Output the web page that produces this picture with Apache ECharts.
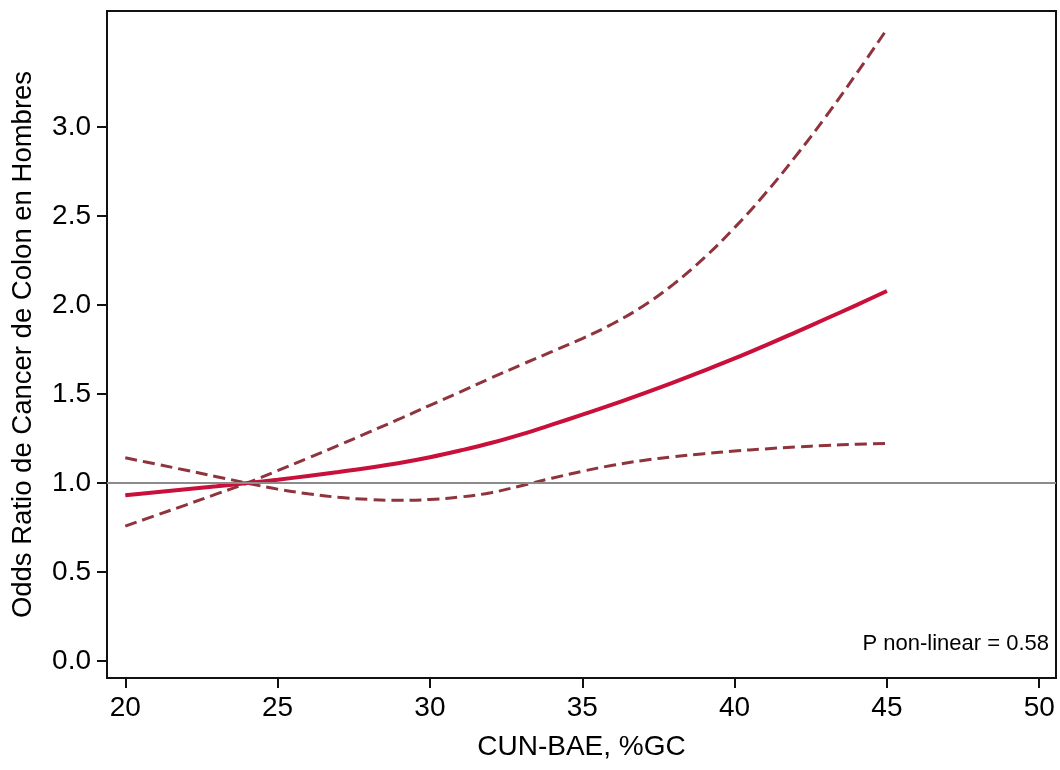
<!DOCTYPE html>
<html>
<head>
<meta charset="utf-8">
<script src="https://cdn.jsdelivr.net/npm/echarts@6/dist/echarts.min.js"></script>
<style>
  html, body { margin: 0; padding: 0; background: #fff; }
  #chart { width: 1060px; height: 770px; }
</style>
</head>
<body>
<div id="chart"></div>
<script>
// CUN-BAE body fat (%) and odds ratio with 95% confidence band
const bodyFat = [20, 21, 22, 23, 24, 25, 26, 27, 28, 29, 30, 31, 32, 33, 34, 35, 36, 37, 38, 39, 40, 41, 42, 43, 44, 45];
const oddsRatio = [0.931, 0.948, 0.965, 0.982, 1.000, 1.019, 1.040, 1.062, 1.086, 1.113, 1.145, 1.183, 1.225, 1.274, 1.328, 1.384, 1.442, 1.503, 1.566, 1.632, 1.700, 1.772, 1.847, 1.923, 2.000, 2.079];
const upperCI = [0.758, 0.818, 0.878, 0.939, 1.000, 1.070, 1.140, 1.212, 1.286, 1.360, 1.437, 1.512, 1.590, 1.665, 1.738, 1.812, 1.895, 1.995, 2.118, 2.265, 2.435, 2.625, 2.835, 3.060, 3.300, 3.550];
const lowerCI = [1.142, 1.107, 1.072, 1.036, 1.000, 0.966, 0.940, 0.920, 0.908, 0.903, 0.908, 0.922, 0.946, 0.985, 1.027, 1.066, 1.100, 1.127, 1.148, 1.165, 1.180, 1.192, 1.203, 1.211, 1.218, 1.223];
const xTicks = [20, 25, 30, 35, 40, 45, 50];
const yTicks = [0, 0.5, 1.0, 1.5, 2.0, 2.5, 3.0];
const refValue = 1.0;
const pText = 'P non-linear = 0.58';

const pairs = ys => bodyFat.map((x, i) => [x, ys[i]]);
const FONT = 'Liberation Sans';
const chart = echarts.init(document.getElementById('chart'), null, { renderer: 'canvas' });

chart.setOption({
  backgroundColor: '#ffffff',
  animation: false,
  textStyle: { fontFamily: FONT },
  grid: {
    left: 107, right: 4, top: 11, bottom: 92,
    show: true, borderColor: '#111', borderWidth: 2, backgroundColor: '#ffffff'
  },
  xAxis: {
    type: 'value',
    min: 19.4, max: 50.55,
    name: 'CUN-BAE, %GC',
    nameLocation: 'middle',
    nameGap: 55,
    nameTextStyle: { fontSize: 28, color: '#000', fontFamily: FONT },
    splitLine: { show: false },
    axisLine: { show: true, onZero: false, lineStyle: { color: '#111', width: 2 } },
    axisTick: { show: true, length: 10, lineStyle: { color: '#111', width: 2 }, customValues: xTicks },
    axisLabel: { fontSize: 28, color: '#000', margin: 16, fontFamily: FONT, customValues: xTicks }
  },
  yAxis: {
    type: 'value',
    min: -0.095, max: 3.652,
    name: 'Odds Ratio de Cancer de Colon en Hombres',
    nameLocation: 'middle',
    nameGap: 70,
    nameRotate: 90,
    nameTextStyle: { fontSize: 27.5, color: '#000', fontFamily: FONT },
    splitLine: { show: false },
    axisLine: { show: true, onZero: false, lineStyle: { color: '#111', width: 2 } },
    axisTick: { show: true, length: 10, lineStyle: { color: '#111', width: 2 }, customValues: yTicks },
    axisLabel: {
      fontSize: 28, color: '#000', margin: 16, fontFamily: FONT, customValues: yTicks,
      formatter: v => v.toFixed(1)
    }
  },
  series: [
    {
      name: 'Referencia',
      type: 'line',
      data: [],
      silent: true,
      markLine: {
        silent: true,
        symbol: ['none', 'none'],
        label: { show: false },
        lineStyle: { color: '#8c8c8c', width: 2, type: 'solid' },
        data: [{ yAxis: refValue }]
      },
      z: 1
    },
    {
      name: 'IC superior',
      type: 'line',
      data: pairs(upperCI),
      smooth: 0.4,
      showSymbol: false,
      lineStyle: { color: '#8f333d', width: 3, type: [12, 6] },
      z: 2
    },
    {
      name: 'IC inferior',
      type: 'line',
      data: pairs(lowerCI),
      smooth: 0.4,
      showSymbol: false,
      lineStyle: { color: '#8f333d', width: 3, type: [12, 6] },
      z: 2
    },
    {
      name: 'OR',
      type: 'line',
      data: pairs(oddsRatio),
      smooth: 0.4,
      showSymbol: false,
      lineStyle: { color: '#c8103a', width: 4 },
      z: 3
    }
  ],
  graphic: [
    {
      type: 'text',
      right: 11,
      top: 633,
      style: { text: pText, fontSize: 22, fill: '#000', fontFamily: FONT }
    }
  ]
});
</script>
</body>
</html>
